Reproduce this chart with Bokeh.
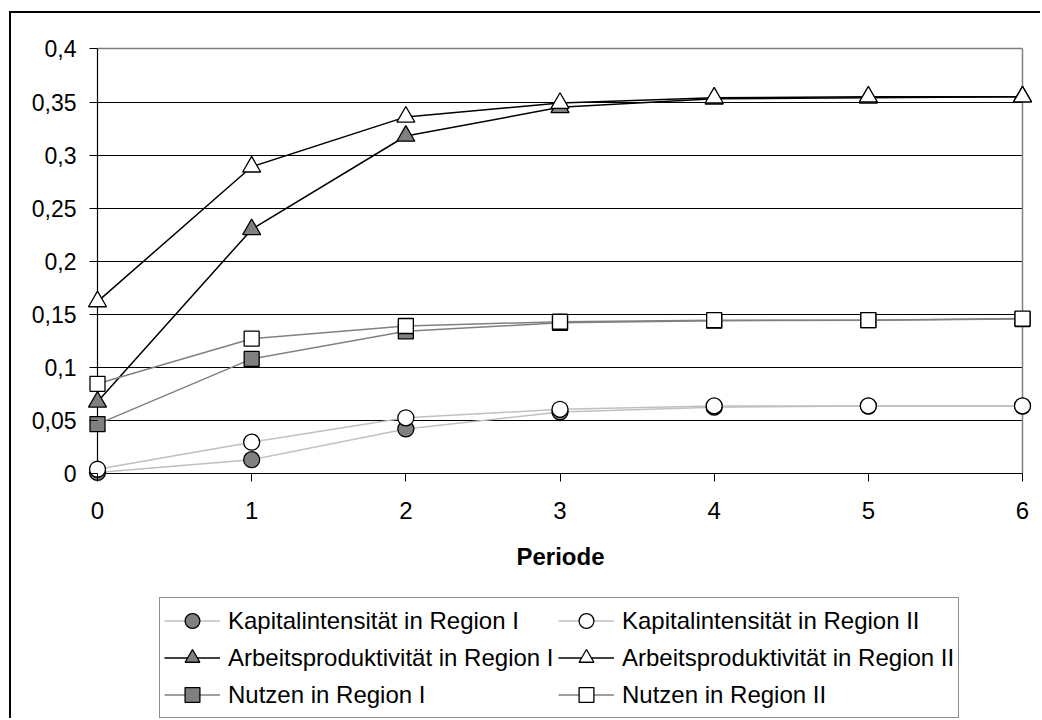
from bokeh.plotting import figure
from bokeh.layouts import column
from bokeh.models import (Range1d, FixedTicker, Grid, Legend, LegendItem)
from bokeh.embed import file_html
from bokeh.resources import INLINE

# ---------------- data ----------------
perioden = [0, 1, 2, 3, 4, 5, 6]
kap_1 = [0.001, 0.013, 0.042, 0.058, 0.0625, 0.0635, 0.0635]
kap_2 = [0.004, 0.0295, 0.0525, 0.0605, 0.0637, 0.0637, 0.0637]
arb_1 = [0.0675, 0.230, 0.318, 0.345, 0.353, 0.354, 0.355]
arb_2 = [0.162, 0.289, 0.336, 0.349, 0.354, 0.355, 0.355]
nutz_1 = [0.0465, 0.108, 0.134, 0.142, 0.144, 0.1445, 0.1455]
nutz_2 = [0.0845, 0.127, 0.139, 0.143, 0.1445, 0.1445, 0.146]

y_ticks = [0, 0.05, 0.1, 0.15, 0.2, 0.25, 0.3, 0.35, 0.4]
y_labels = ["0", "0,05", "0,1", "0,15", "0,2", "0,25", "0,3", "0,35", "0,4"]
x_ticks = [0, 1, 2, 3, 4, 5, 6]
x_title = "Periode"
names = ["Kapitalintensität in Region I", "Kapitalintensität in Region II",
         "Arbeitsproduktivität in Region I", "Arbeitsproduktivität in Region II",
         "Nutzen in Region I", "Nutzen in Region II"]

x_min, x_max = 0, 6
y_min, y_max = 0, 0.4

# ---------------- layout (page pixels) ----------------
OFF_X, OFF_Y = 11, 13            # canvas origin on page (after margin + border)
W = 1042 - OFF_X
SPLIT = 590                       # page y where chart figure ends, legend figure starts
H1 = SPLIT - OFF_Y
H2 = 720 - SPLIT
X0_PX, X6_PX = 97, 1022          # page px of x = 0 and x = 6
Y0_PX, Y4_PX = 473.3, 48.5       # page px of y = 0 and y = 0.4
TICK = 8                          # tick length in px
FL, FR, FT = 82, 1038, 30         # frame edges on page
FB = Y0_PX + TICK

sx = (X6_PX - X0_PX) / (x_max - x_min)
sy = (Y0_PX - Y4_PX) / (y_max - y_min)
xr = Range1d(x_min - (X0_PX - FL) / sx, x_max + (FR - X6_PX) / sx)
yr = Range1d(y_min - (FB - Y0_PX) / sy, y_max + (Y4_PX - FT) / sy)

FONT = "Liberation Sans"

p = figure(width=W, height=H1, x_range=xr, y_range=yr,
           output_backend="svg", toolbar_location=None,
           min_border_left=FL - OFF_X, min_border_right=W - (FR - OFF_X),
           min_border_top=FT - OFF_Y, min_border_bottom=int(round(H1 - (FB - OFF_Y))),
           background_fill_color="white", border_fill_color="white")
p.outline_line_color = None
p.styles = {"margin-left": "9px", "margin-top": "11px",
            "border-left": "2px solid #000000", "border-top": "2px solid #000000"}

# axes (axis lines drawn by grids at the data origin; axes give ticks + labels)
for ax in (p.xaxis[0], p.yaxis[0]):
    ax.axis_line_color = None
    ax.major_tick_line_color = "#000000"
    ax.major_tick_line_width = 1
    ax.minor_tick_line_color = None
    ax.major_label_text_font = FONT
    ax.major_label_text_color = "#000000"

xa = p.xaxis[0]
xa.ticker = FixedTicker(ticks=x_ticks)
xa.major_tick_in = TICK
xa.major_tick_out = 0
xa.major_label_standoff = 20
xa.major_label_text_font_size = "24px"
xa.axis_label = x_title
xa.axis_label_text_font = FONT
xa.axis_label_text_font_style = "bold"
xa.axis_label_text_font_size = "24px"
xa.axis_label_text_color = "#000000"
xa.axis_label_standoff = 21

ya = p.yaxis[0]
ya.ticker = FixedTicker(ticks=y_ticks)
ya.major_label_overrides = {t: l for t, l in zip(y_ticks, y_labels)}
ya.major_label_text_font_size = "23px"
ya.major_tick_in = X0_PX - FL
ya.major_tick_out = -(X0_PX - FL - TICK)
ya.major_label_standoff = 6

# grids
p.xgrid.visible = False
p.ygrid[0].ticker = FixedTicker(ticks=y_ticks[1:-1])
p.ygrid[0].cross_bounds = (x_min, x_max)
p.ygrid[0].grid_line_color = "#000000"
p.ygrid[0].grid_line_width = 1
# plot-area border (top/right, grey) and axis lines (black)
p.add_layout(Grid(dimension=1, ticker=FixedTicker(ticks=[y_max]), cross_bounds=(x_min, x_max),
                  grid_line_color="#808080", grid_line_width=1.5))
p.add_layout(Grid(dimension=0, ticker=FixedTicker(ticks=[x_max]), cross_bounds=(y_min, y_max),
                  grid_line_color="#808080", grid_line_width=1.5))
p.add_layout(Grid(dimension=1, ticker=FixedTicker(ticks=[y_min]), cross_bounds=(x_min, x_max),
                  grid_line_color="#000000", grid_line_width=1.2))
p.add_layout(Grid(dimension=0, ticker=FixedTicker(ticks=[x_min]), cross_bounds=(y_min, y_max),
                  grid_line_color="#000000", grid_line_width=1.2))

# series
series = [
    (kap_1, "#C0C0C0", "circle", "#808080", 16),
    (kap_2, "#C0C0C0", "circle", "#FFFFFF", 16),
    (arb_1, "#000000", "triangle", "#808080", 18),
    (arb_2, "#000000", "triangle", "#FFFFFF", 18),
    (nutz_1, "#808080", "square", "#808080", 15),
    (nutz_2, "#808080", "square", "#FFFFFF", 15),
]
for (vals, lc, mk, fc, sz), name in zip(series, names):
    p.line(perioden, vals, line_color=lc, line_width=1.5)
    p.scatter(perioden, vals, marker=mk, size=sz, fill_color=fc,
              line_color="#000000", line_width=1.3)

# ---------------- legend figure (series re-drawn out of view, legend only) ----------------
q = figure(width=W, height=H2, x_range=(-3, -2), y_range=(-3, -2),
           output_backend="svg", toolbar_location=None,
           x_axis_location=None, y_axis_location=None, min_border=0,
           background_fill_color="white", border_fill_color="white")
q.outline_line_color = None
q.xgrid.visible = False
q.ygrid.visible = False
q.styles = {"margin-left": "9px", "border-left": "2px solid #000000"}

items = {}
for (vals, lc, mk, fc, sz), name in zip(series, names):
    l = q.line(perioden, vals, line_color=lc, line_width=1.5)
    s = q.scatter(perioden, vals, marker=mk, size=sz, fill_color=fc,
                  line_color="#000000", line_width=1.3)
    items[name] = LegendItem(label=name, renderers=[l, s])

LEG_LEFT = 159
order = [names[0], names[2], names[4], names[1], names[3], names[5]]
legend = Legend(items=[items[n] for n in order], ncols=2,
                location=(LEG_LEFT - FL, 0),
                glyph_width=56, glyph_height=37, spacing=0, padding=4,
                label_standoff=8, label_width=330, label_height=27,
                label_text_font=FONT, label_text_font_size="24px",
                label_text_color="#000000",
                border_line_color="#202020", border_line_width=1.2,
                background_fill_color="white", background_fill_alpha=1,
                margin=0)
q.add_layout(legend, "center")

layout = column(p, q, spacing=0)
open("out.html", "w").write(file_html(layout, INLINE))
